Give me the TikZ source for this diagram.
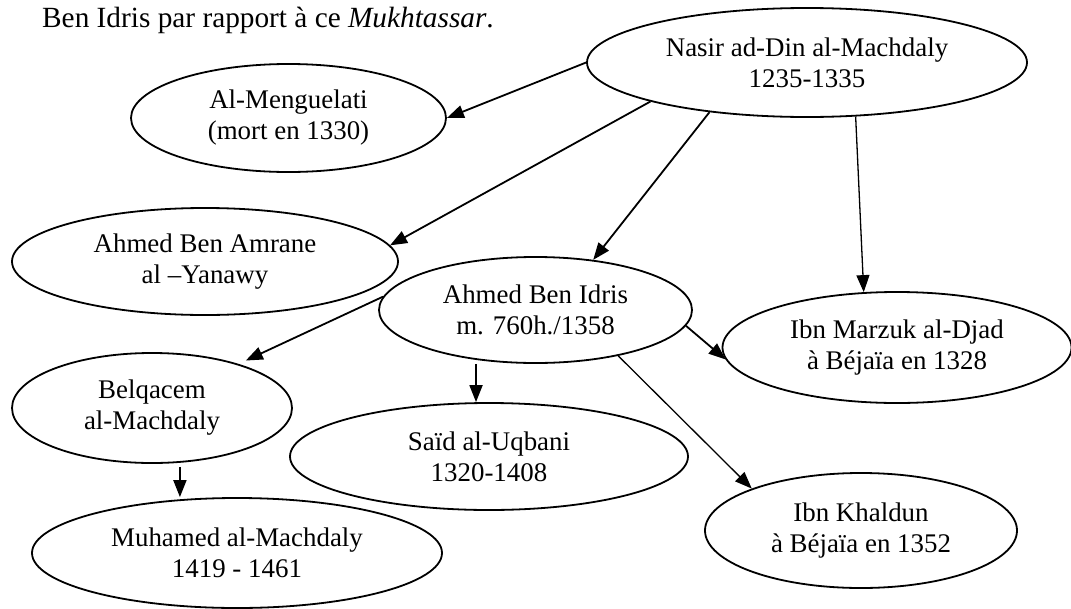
\documentclass[tikz,border=0pt]{standalone}
\usepackage{fontspec}
\setmainfont{Liberation Serif}
\usetikzlibrary{shapes.geometric,arrows.meta}
\begin{document}
\begin{tikzpicture}[x=1pt,y=-1pt,
  pers/.style={ellipse,draw,line width=1.8pt,inner sep=0pt,align=center,font=\fontsize{26.9}{31}\selectfont},
  link/.style={-{Triangle[length=17pt,width=13pt]},line width=1.8pt},
  thinlink/.style={link,line width=1.3pt},
]
\useasboundingbox (0,0) rectangle (1071,608);
\node[anchor=base west,inner sep=0pt,font=\fontsize{29.3}{34}\selectfont] (head) at (42,27.5) {Ben Idris par rapport à ce \textit{Mukhtassar}.};
\node[pers,minimum width=440pt,minimum height=109pt] (nasir) at (807,62.5) {Nasir ad-Din al-Machdaly\\1235-1335};
\node[pers,minimum width=315pt,minimum height=108pt] (meng) at (288.5,118) {Al-Menguelati\\(mort en 1330)};
\node[pers,minimum width=386pt,minimum height=107pt] (amrane) at (205,261.5) {Ahmed Ben Amrane\\al –Yanawy};
\node[pers,minimum width=313pt,minimum height=106pt] (idris) at (535.5,310) {Ahmed Ben Idris\\m. 760h./1358};
\node[pers,minimum width=349pt,minimum height=111pt] (marzuk) at (897,347.5) {Ibn Marzuk al-Djad\\à Béjaïa en 1328};
\node[pers,minimum width=280pt,minimum height=110pt] (belq) at (152,408) {Belqacem\\al-Machdaly};
\node[pers,minimum width=410pt,minimum height=110pt] (muh) at (237,553) {Muhamed al-Machdaly\\1419 - 1461};
\node[pers,minimum width=398pt,minimum height=107pt] (said) at (489,456.5) {Saïd al-Uqbani\\1320-1408};
\node[pers,minimum width=312pt,minimum height=115pt] (khal) at (861,530.5) {Ibn Khaldun\\à Béjaïa en 1352};
\draw[link] (nasir.west) -- (meng.east);
\draw[link] (nasir.194.7) -- (amrane.5);
\draw[link] (nasir.207) -- (idris.41.4);
\draw[thinlink] (nasir.312.3) -- (marzuk.121.5);
\draw[link,shorten >=8pt] (idris.175.6) -- (belq.27.6);
\draw[link,shorten <=4pt] (idris.220.6) -- (said.north -| idris.220.6);
\draw[link] (idris.354.3) -- (marzuk.184.1);
\draw[thinlink] (idris.331) -- (khal.159.4);
\draw[link,shorten <=4pt] (belq.297.5) -- (muh.north -| belq.297.5);
\end{tikzpicture}
\end{document}
